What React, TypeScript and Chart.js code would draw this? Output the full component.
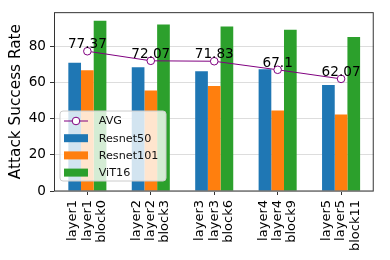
import React, { useEffect, useRef } from "react";
import { Chart, registerables } from "chart.js";

Chart.register(...registerables);

// ---- data ----
const resnet50Layers = ["layer1", "layer2", "layer3", "layer4", "layer5"];
const resnet101Layers = ["layer1", "layer2", "layer3", "layer4", "layer5"];
const vitBlocks = ["block0", "block3", "block6", "block9", "block11"];
const resnet50 = [71.0, 68.5, 66.3, 67.4, 58.7];
const resnet101 = [66.8, 55.6, 58.1, 44.6, 42.3];
const vit16 = [94.3, 92.1, 91.1, 89.3, 85.2];
const avg = [77.37, 72.07, 71.83, 67.1, 62.07];
const yTicks = [0, 20, 40, 60, 80];
const seriesNames = ["AVG", "Resnet50", "Resnet101", "ViT16"];
const yTitle = "Attack Success Rate";

const FONT = "DejaVu Sans";
const C_BLUE = "#1f77b4";
const C_ORANGE = "#ff7f0e";
const C_GREEN = "#2ca02c";
const C_PURPLE = "#800080";

const groupLabels = resnet50Layers.map((l, i) => [l, resnet101Layers[i], vitBlocks[i]]);
const toPoints = (arr: number[]) => arr.map((v, i) => ({ x: i, y: v }));

const overlayPlugin = {
  id: "overlay",
  afterDatasetsDraw(chart: any) {
    const ctx = chart.ctx;
    const meta = chart.getDatasetMeta(0);
    const vals = chart.data.datasets[0].data;
    ctx.save();
    ctx.font = `13.6px "${FONT}"`;
    ctx.fillStyle = "#000";
    ctx.textAlign = "center";
    ctx.textBaseline = "alphabetic";
    meta.data.forEach((p: any, i: number) => {
      ctx.fillText(String(vals[i].y), p.x, p.y - 3);
    });
    ctx.restore();
  },
  afterDraw(chart: any) {
    const ctx = chart.ctx;
    const a = chart.chartArea;
    ctx.save();
    // frame
    ctx.strokeStyle = "#333";
    ctx.lineWidth = 1;
    ctx.strokeRect(a.left + 0.5, a.top + 0.5, a.right - a.left - 1, a.bottom - a.top - 0.5);

    // legend
    const lx = a.left + 6;
    const ly = a.bottom - 80;
    const lw = 106;
    const lh = 70;
    const r = 3;
    ctx.beginPath();
    ctx.moveTo(lx + r, ly);
    ctx.lineTo(lx + lw - r, ly);
    ctx.arcTo(lx + lw, ly, lx + lw, ly + r, r);
    ctx.lineTo(lx + lw, ly + lh - r);
    ctx.arcTo(lx + lw, ly + lh, lx + lw - r, ly + lh, r);
    ctx.lineTo(lx + r, ly + lh);
    ctx.arcTo(lx, ly + lh, lx, ly + lh - r, r);
    ctx.lineTo(lx, ly + r);
    ctx.arcTo(lx, ly, lx + r, ly, r);
    ctx.closePath();
    ctx.fillStyle = "rgba(255,255,255,0.8)";
    ctx.fill();
    ctx.strokeStyle = "#cccccc";
    ctx.lineWidth = 1;
    ctx.stroke();

    const ds = chart.data.datasets;
    const hx = lx + 4;
    const hw = 24;
    ctx.font = `11.2px "${FONT}"`;
    ctx.textAlign = "left";
    ctx.textBaseline = "middle";
    ds.forEach((d: any, i: number) => {
      const cy = ly + 10 + i * 17.2;
      if (d.type === "line") {
        ctx.strokeStyle = d.borderColor;
        ctx.lineWidth = 1;
        ctx.beginPath();
        ctx.moveTo(hx, cy);
        ctx.lineTo(hx + hw, cy);
        ctx.stroke();
        ctx.beginPath();
        ctx.arc(hx + hw / 2, cy, 3.8, 0, Math.PI * 2);
        ctx.fillStyle = "#fff";
        ctx.fill();
        ctx.stroke();
      } else {
        ctx.fillStyle = d.backgroundColor;
        ctx.fillRect(hx, cy - 4, hw, 8);
      }
      ctx.fillStyle = "#111";
      ctx.fillText(d.label, lx + 38.7, cy + 0.5);
    });
    ctx.restore();
  },
};

export default function App() {
  const ref = useRef<HTMLCanvasElement | null>(null);

  useEffect(() => {
    if (!ref.current) return;
    Chart.defaults.font.family = FONT;
    const chart = new Chart(ref.current, {
      type: "bar",
      data: {
        datasets: [
          {
            type: "line",
            label: seriesNames[0],
            data: toPoints(avg),
            borderColor: C_PURPLE,
            borderWidth: 1,
            pointRadius: 3.8,
            pointBorderWidth: 1,
            pointBackgroundColor: "#fff",
            pointBorderColor: C_PURPLE,
            fill: false,
            tension: 0,
            order: 0,
          } as any,
          { type: "bar", label: seriesNames[1], data: toPoints(resnet50), backgroundColor: C_BLUE, borderWidth: 0, order: 1 },
          { type: "bar", label: seriesNames[2], data: toPoints(resnet101), backgroundColor: C_ORANGE, borderWidth: 0, order: 1 },
          { type: "bar", label: seriesNames[3], data: toPoints(vit16), backgroundColor: C_GREEN, borderWidth: 0, order: 1 },
        ] as any,
      },
      options: {
        animation: false,
        responsive: false,
        maintainAspectRatio: false,
        layout: { padding: { top: 10, right: 10, left: 0, bottom: 0 } },
        plugins: { legend: { display: false }, tooltip: { enabled: false } },
        datasets: { bar: { categoryPercentage: 0.6, barPercentage: 1.0 } } as any,
        scales: {
          x: {
            type: "linear",
            min: -0.526,
            max: 4.515,
            offset: false,
            afterBuildTicks: (s: any) => {
              s.ticks = groupLabels.map((_, i) => ({ value: i }));
            },
            grid: {
              display: true,
              drawOnChartArea: false,
              drawTicks: true,
              tickLength: 4,
              tickColor: "#333",
              offset: false,
            },
            border: { display: false },
            ticks: {
              autoSkip: false,
              maxRotation: 90,
              minRotation: 90,
              padding: 5,
              labelOffset: -14.3,
              color: "#000",
              font: { family: FONT, size: 13, lineHeight: 1.1 },
              callback: (_v: any, i: number) => groupLabels[i],
            },
            afterFit: (s: any) => {
              s.height = 69;
            },
          } as any,
          y: {
            min: 0,
            max: 99,
            afterBuildTicks: (s: any) => {
              s.ticks = yTicks.map((v) => ({ value: v }));
            },
            grid: { color: "#dddddd", tickColor: "#333", tickLength: 4, lineWidth: 1 },
            border: { display: false },
            ticks: { padding: 4, color: "#000", font: { family: FONT, size: 13.6 } },
            title: {
              display: true,
              text: yTitle,
              color: "#000",
              font: { family: FONT, size: 15.3 },
              padding: { top: 6.5, bottom: 0 },
            },
            afterFit: (s: any) => {
              s.width = 54;
            },
          },
        },
      },
      plugins: [overlayPlugin],
    });
    return () => chart.destroy();
  }, []);

  return (
    <div style={{ position: "absolute", left: 0, top: 0, width: 390, height: 260 }}>
      <canvas ref={ref} width={390} height={260} style={{ display: "block", width: 390, height: 260 }} />
    </div>
  );
}
